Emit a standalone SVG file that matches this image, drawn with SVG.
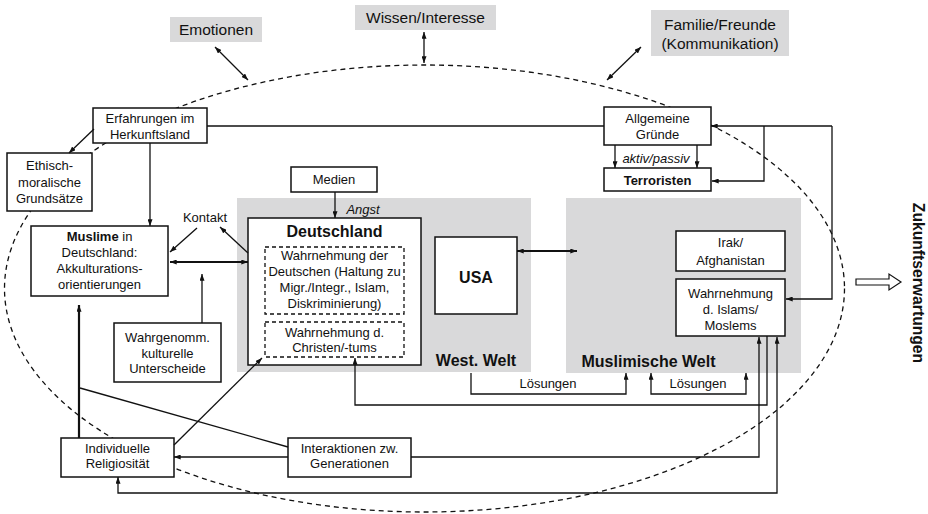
<svg xmlns="http://www.w3.org/2000/svg" width="928" height="514" viewBox="0 0 928 514">
<defs>
<marker id="ah" markerUnits="userSpaceOnUse" viewBox="0 0 8 6" refX="8" refY="3" markerWidth="7" markerHeight="5" orient="auto-start-reverse">
<path d="M0,0 L8,3 L0,6 z" fill="#111"/>
</marker>
<style>
text{font-family:"Liberation Sans",Arial,sans-serif;font-size:13px;fill:#111;text-anchor:middle}
.big{font-size:15.5px}
.b{font-weight:bold}
.h{font-size:16px;font-weight:bold}
.i{font-style:italic}
.box{fill:#fff;stroke:#111;stroke-width:1.5}
.dbox{fill:#fff;stroke:#111;stroke-width:1.3;stroke-dasharray:4,3}
.grey{fill:#d9d9da;stroke:none}
.ln{fill:none;stroke:#111;stroke-width:1.3}
.th{fill:none;stroke:#111;stroke-width:2.2}
.ell{fill:none;stroke:#111;stroke-width:1.3;stroke-dasharray:5,4}
</style>
</defs>
<rect width="928" height="514" fill="#fff"/>
<ellipse class="ell" cx="424.5" cy="288.5" rx="420" ry="223.5"/>
<rect class="grey" x="237" y="198" width="294" height="174"/>
<rect class="grey" x="566" y="198" width="235" height="175"/>
<g id="emotionen"><rect class="grey" x="170" y="17" width="92" height="25"/><text class="big" x="216" y="35">Emotionen</text></g>
<g id="wissen"><rect class="grey" x="355" y="5" width="141" height="25"/><text class="big" x="425.5" y="23">Wissen/Interesse</text></g>
<g id="familie"><rect class="grey" x="651" y="10" width="138" height="46"/><text class="big" x="720" y="30">Familie/Freunde</text><text class="big" x="720" y="49">(Kommunikation)</text></g>
<text class="b big" transform="translate(913,283) rotate(90)" x="0" y="0" style="font-size:15.7px">Zukunftserwartungen</text>
<polygon points="856,279 889,279 889,274 901,282 889,290 889,285 856,285" fill="#fff" stroke="#111" stroke-width="1.2"/>
<text x="205" y="222">Kontakt</text>
<text class="i" x="363" y="214">Angst</text>
<text class="i" x="656" y="163">aktiv/passiv</text>
<text x="548" y="388">Lösungen</text>
<text x="698" y="388">Lösungen</text>
<text class="h" x="476" y="366">West. Welt</text>
<text class="h" x="648.5" y="367">Muslimische Welt</text>
<g id="erfahrungen"><rect class="box" x="93" y="108" width="114" height="35"/><text x="150" y="123">Erfahrungen im</text><text x="150" y="139">Herkunftsland</text></g>
<g id="ethisch"><rect class="box" x="7" y="153" width="85" height="58"/><text x="49.5" y="170">Ethisch-</text><text x="49.5" y="187">moralische</text><text x="49.5" y="203">Grundsätze</text></g>
<g id="muslime"><rect class="box" x="31" y="226" width="137" height="70"/><text x="99.5" y="241"><tspan font-weight="bold">Muslime</tspan> in</text><text x="99.5" y="257">Deutschland:</text><text x="99.5" y="273">Akkulturations-</text><text x="99.5" y="289">orientierungen</text></g>
<g id="wahrgenomm"><rect class="box" x="114" y="323" width="107" height="59"/><text x="167.5" y="342">Wahrgenomm.</text><text x="167.5" y="358">kulturelle</text><text x="167.5" y="373">Unterscheide</text></g>
<g id="individuelle"><rect class="box" x="61" y="438" width="113" height="39"/><text x="117.5" y="453">Individuelle</text><text x="117.5" y="468">Religiosität</text></g>
<g id="interaktionen"><rect class="box" x="288" y="438" width="123" height="39"/><text x="349.5" y="453">Interaktionen zw.</text><text x="349.5" y="468">Generationen</text></g>
<g id="medien"><rect class="box" x="291" y="167" width="86" height="25"/><text x="334" y="184">Medien</text></g>
<g id="deutschland"><rect class="box" x="248" y="218" width="173" height="147"/><text class="h" x="334.5" y="237">Deutschland</text></g>
<g id="wahrnehmung-deutschen"><rect class="dbox" x="265" y="247" width="139" height="67"/><text x="334.5" y="260">Wahrnehmung der</text><text x="334.5" y="276">Deutschen (Haltung zu</text><text x="334.5" y="292">Migr./Integr., Islam,</text><text x="334.5" y="308">Diskriminierung)</text></g>
<g id="wahrnehmung-christen"><rect class="dbox" x="265" y="322" width="139" height="35"/><text x="334.5" y="337">Wahrnehmung d.</text><text x="334.5" y="352">Christen/-tums</text></g>
<g id="usa"><rect class="box" x="435" y="237" width="82" height="77"/><text class="h" x="476" y="283">USA</text></g>
<g id="irak"><rect class="box" x="676" y="231" width="109" height="40"/><text x="730.5" y="247">Irak/</text><text x="730.5" y="265">Afghanistan</text></g>
<g id="wahrnehmung-islam"><rect class="box" x="676" y="279" width="109" height="57"/><text x="730.5" y="298">Wahrnehmung</text><text x="730.5" y="314">d. Islams/</text><text x="730.5" y="330">Moslems</text></g>
<g id="allgemeine"><rect class="box" x="604" y="107" width="107" height="38"/><text x="657.5" y="123">Allgemeine</text><text x="657.5" y="139">Gründe</text></g>
<g id="terroristen"><rect class="box" x="604" y="168" width="107" height="23"/><text class="b" x="657.5" y="185">Terroristen</text></g>
<g id="connectors">
<line class="ln" x1="215" y1="47" x2="248" y2="80" marker-start="url(#ah)" marker-end="url(#ah)"/>
<line class="ln" x1="424" y1="32" x2="424" y2="63" marker-start="url(#ah)" marker-end="url(#ah)"/>
<line class="ln" x1="641" y1="47" x2="607" y2="80" marker-start="url(#ah)" marker-end="url(#ah)"/>
<line class="ln" x1="94" y1="129" x2="69" y2="153" marker-end="url(#ah)"/>
<line class="ln" x1="150" y1="143" x2="150" y2="226" marker-end="url(#ah)"/>
<line class="ln" x1="207" y1="126" x2="604" y2="126"/>
<line class="ln" x1="197" y1="228" x2="170" y2="252" marker-end="url(#ah)"/>
<line class="ln" x1="248" y1="253" x2="220" y2="227" marker-end="url(#ah)"/>
<line class="th" x1="170" y1="262" x2="248" y2="262" marker-start="url(#ah)" marker-end="url(#ah)"/>
<line class="ln" x1="202" y1="323" x2="202" y2="274" marker-end="url(#ah)"/>
<line class="th" x1="79" y1="438" x2="79" y2="305" marker-end="url(#ah)"/>
<line class="ln" x1="80" y1="388" x2="288" y2="447"/>
<line class="ln" x1="174" y1="445" x2="262" y2="358" marker-end="url(#ah)"/>
<line class="ln" x1="288" y1="457" x2="174" y2="457" marker-end="url(#ah)"/>
<path class="ln" d="M411,457 H759 V337" marker-end="url(#ah)"/>
<path class="ln" d="M767,336 V405 H355 V358" marker-end="url(#ah)"/>
<path class="ln" d="M118,477 V493 H777 V337" marker-start="url(#ah)" marker-end="url(#ah)"/>
<path class="ln" d="M471,373 V394 H626 V373" marker-end="url(#ah)"/>
<path class="ln" d="M651,373 V394 H746 V373" marker-start="url(#ah)" marker-end="url(#ah)"/>
<line class="ln" x1="335" y1="192" x2="335" y2="218" marker-end="url(#ah)"/>
<line class="th" x1="517" y1="251" x2="577" y2="251" marker-start="url(#ah)" marker-end="url(#ah)"/>
<line class="ln" x1="615" y1="145" x2="615" y2="168" marker-end="url(#ah)"/>
<line class="ln" x1="697" y1="145" x2="697" y2="168" marker-end="url(#ah)"/>
<path class="ln" d="M832,126 H711" marker-end="url(#ah)"/>
<path class="ln" d="M832,126 V299 H786" marker-end="url(#ah)"/>
<path class="ln" d="M764,126 V181 H712" marker-end="url(#ah)"/>
</g>
</svg>
